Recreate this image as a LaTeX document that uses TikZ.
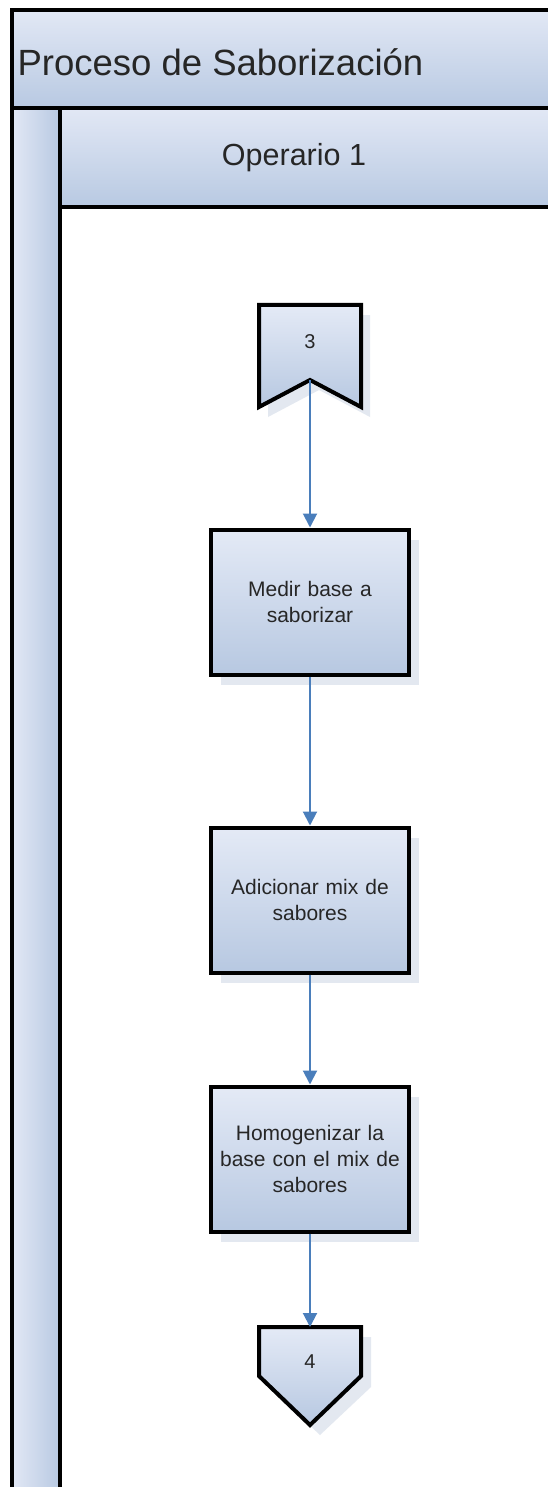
\documentclass[tikz,border=0pt]{standalone}
\usepackage{fontspec}
\setmainfont{Liberation Sans}
\usetikzlibrary{arrows.meta,shadows}
\definecolor{hdtop}{HTML}{E2E8F5}
\definecolor{hdbot}{HTML}{B8C9E2}
\definecolor{boxtop}{HTML}{E4EAF6}
\definecolor{boxbot}{HTML}{B7C8E1}
\definecolor{shadowc}{HTML}{E3E8F0}
\definecolor{arrowc}{HTML}{4A7EBB}
\definecolor{txtc}{HTML}{262626}
\tikzset{
  frameline/.style={line width=3.5pt, draw=black},
  hdshade/.style={top color=hdtop, bottom color=hdbot, shading angle=0},
  procbox/.style={draw=black, line width=4pt, minimum width=198pt, minimum height=145pt,
    inner sep=0pt, align=center, text width=196pt, text=txtc,
    font=\fontsize{21}{26}\selectfont,
    top color=boxtop, bottom color=boxbot,
    general shadow={fill=shadowc, shadow xshift=10pt, shadow yshift=-10pt}},
  flow/.style={draw=arrowc, line width=2pt, -{Triangle[width=14pt,length=14pt]}},
  offpage/.style={draw=black, line width=4pt, line join=miter, top color=boxtop, bottom color=boxbot},
  numtxt/.style={text=txtc, font=\fontsize{20}{22}\selectfont},
}
\begin{document}
\begin{tikzpicture}[x=1pt,y=-1pt]
\useasboundingbox (0,0) rectangle (548,1487);
\clip (0,0) rectangle (548,1487);
\fill[white] (0,0) rectangle (548,1487);
% title band
\shade[hdshade] (12,10) rectangle (560,108);
\draw[frameline] (560,10) -- (12,10) -- (12,1500);
\draw[frameline] (12,108) -- (560,108);
\node[anchor=west, text=txtc, font=\fontsize{36.5}{42}\selectfont] (title) at (14,62) {Proceso de Saborización};
% left strip
\shade[left color=hdtop, right color=hdbot] (12,108) rectangle (60,1500);
% lane header
\shade[hdshade] (60,108) rectangle (560,207);
\draw[frameline] (12,108) -- (12,1500);
\draw[frameline] (60,108) -- (60,1500);
\draw[frameline] (60,207) -- (560,207);
\draw[frameline] (12,108) -- (560,108);
\node[text=txtc, font=\fontsize{30.5}{35}\selectfont] (lane) at (294,158) {Operario 1};
% off-page connector 3
\fill[shadowc] (268,315) -- (370,315) -- (370,417) -- (319,390) -- (268,417) -- cycle;
\draw[offpage] (259,305) -- (361,305) -- (361,407) -- (310,380) -- (259,407) -- cycle;
\coordinate (c3tip) at (310,380);
\node[numtxt] (n3) at (310,342) {3};
% process boxes
\node[procbox] (b1) at (310,602) {Medir base a\\saborizar};
\node[procbox] (b2) at (310,900) {Adicionar mix de\\sabores};
\node[procbox] (b3) at (310,1159) {Homogenizar la\\base con el mix de\\sabores};
% off-page connector 4
\fill[shadowc] (269,1337) -- (371,1337) -- (371,1387) -- (320,1435) -- (269,1387) -- cycle;
\draw[offpage] (259,1327) -- (361,1327) -- (361,1376) -- (310,1425) -- (259,1376) -- cycle;
\coordinate (c4top) at (310,1327);
\node[numtxt] (n4) at (310,1362) {4};
% flows
\draw[flow] (c3tip) -- (b1.north);
\draw[flow] (b1.south) -- (b2.north);
\draw[flow] (b2.south) -- (b3.north);
\draw[flow] (b3.south) -- (c4top);
\end{tikzpicture}
\end{document}
